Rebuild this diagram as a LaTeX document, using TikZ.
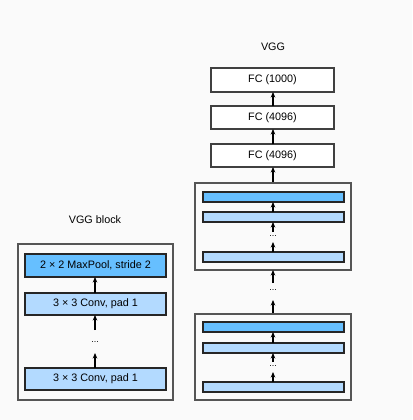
\documentclass[tikz,border=0pt]{standalone}
\usepackage{fontspec}
\setmainfont{Liberation Sans}
\usetikzlibrary{arrows.meta}
\definecolor{bgc}{HTML}{FAFAFA}
\definecolor{darkb}{HTML}{66BFFF}
\definecolor{lightb}{HTML}{B3DAFF}
\definecolor{outerc}{HTML}{555555}
\begin{document}
\begin{tikzpicture}[x=1pt,y=-1pt,
  every node/.style={font=\fontsize{10.8}{13}\selectfont},
  outerbox/.style={draw=outerc,line width=1.4pt,fill=none},
  fcbox/.style={draw=black!75,line width=1.3pt,fill=white},
  darkbox/.style={draw=black!85,line width=1.3pt,fill=darkb},
  lightbox/.style={draw=black!85,line width=1.3pt,fill=lightb},
  arr/.style={-{Stealth[length=5.5pt,width=4.5pt]},line width=1.2pt,black},
  dotsn/.style={inner sep=0pt,font=\fontsize{9}{9}\selectfont}]
\fill[bgc] (0,0) rectangle (412,420);
\useasboundingbox (0,0) rectangle (412,420);
% Left VGG block
\node (lt) at (95,220) {VGG block};
\draw[outerbox] (18,244) rectangle (173,400);
\draw[darkbox] (25,254) rectangle (166,277) node[midway] (mp) {2 × 2 MaxPool, stride 2};
\draw[lightbox] (25,293) rectangle (166,315) node[midway] (c1) {3 × 3 Conv, pad 1};
\node[dotsn] (ld) at (95,342) {...};
\draw[lightbox] (25,368) rectangle (166,390) node[midway] (c2) {3 × 3 Conv, pad 1};
\coordinate (mpb) at (95,277);
\coordinate (c1t) at (95,293);
\coordinate (c1b) at (95,315);
\coordinate (lda) at (95,330);
\coordinate (ldb) at (95,353);
\coordinate (c2t) at (95,368);
\draw[arr] (c1t) -- (mpb);
\draw[arr] (lda) -- (c1b);
\draw[arr] (c2t) -- (ldb);
% Right VGG
\node (rt) at (273,47) {VGG};
\draw[fcbox] (211,68) rectangle (334,92) node[midway] (f1) {FC (1000)};
\draw[fcbox] (211,106) rectangle (334,129) node[midway] (f2) {FC (4096)};
\draw[fcbox] (211,144) rectangle (334,167) node[midway] (f3) {FC (4096)};
\draw[arr] (273,106) -- (273,92);
\draw[arr] (273,144) -- (273,129);
\draw[arr] (273,183) -- (273,167);
% block A
\draw[outerbox] (195,183) rectangle (351,270);
\draw[darkbox] (203,192) rectangle (344,202);
\draw[lightbox] (203,212) rectangle (344,222);
\node[dotsn] (ad) at (273,236) {...};
\draw[lightbox] (203,252) rectangle (344,262);
\draw[arr] (273,212) -- (273,202);
\draw[arr] (273,232) -- (273,222);
\draw[arr] (273,252) -- (273,242);
% between
\draw[arr] (273,283) -- (273,270);
\node[dotsn] (md) at (273,290) {...};
\draw[arr] (273,314) -- (273,300);
% block B
\draw[outerbox] (195,314) rectangle (351,400);
\draw[darkbox] (203,322) rectangle (344,332);
\draw[lightbox] (203,343) rectangle (344,353);
\node[dotsn] (bd) at (273,366) {...};
\draw[lightbox] (203,382) rectangle (344,392);
\draw[arr] (273,343) -- (273,332);
\draw[arr] (273,362) -- (273,353);
\draw[arr] (273,382) -- (273,372);
\end{tikzpicture}
\end{document}
